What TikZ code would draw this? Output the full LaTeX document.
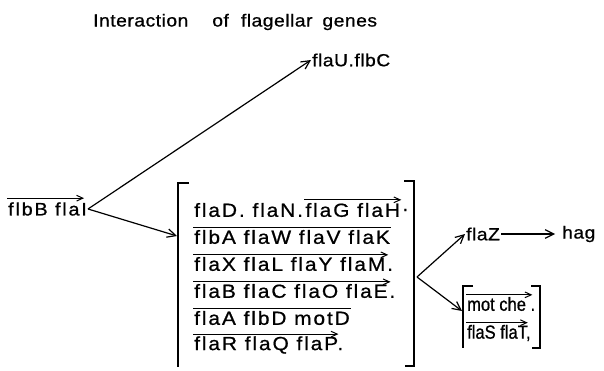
\documentclass[tikz,border=0pt]{standalone}
\usepackage{fontspec}
\setmainfont{Liberation Sans}
\newfontfamily\genefont[LetterSpace=10,FakeStretch=1.1,FakeBold=0.8]{Liberation Sans}
\newfontfamily\plainfont[LetterSpace=3,FakeStretch=1.1,FakeBold=0.8]{Liberation Sans}
\newfontfamily\tightfont[FakeStretch=0.87,FakeBold=0.8]{Liberation Sans}
\usetikzlibrary{arrows.meta,positioning}
\tikzset{
  gene/.style={inner sep=1pt, anchor=west, font=\genefont\fontsize{19}{21}\selectfont},
  tgene/.style={gene, font=\plainfont\fontsize{17.5}{20}\selectfont},
  sgene/.style={gene, font=\tightfont\fontsize{19}{21}\selectfont},
  overarrow/.style={-{Straight Barb[length=2.2mm,width=2mm]}, line width=1pt},
  overbar/.style={line width=1pt},
  link/.style={-{Straight Barb[length=3mm,width=3mm]}, line width=1.2pt},
  brak/.style={line width=1.2pt}
}

\begin{document}
\begin{tikzpicture}[x=1pt,y=-1pt]
\useasboundingbox (0,0) rectangle (604,371);
\node[tgene] (title) at (92,22) {Interaction\hspace{24pt}of\hspace{12pt}flagellar\hspace{10pt}genes};

% first level
\node[gene, font=\genefont\fontsize{18}{20}\selectfont] (src) at (7,209) {flbB flaI};
\node[tgene] (uc) at (311,60) {flaU.flbC};
\draw[overarrow] ([yshift=3pt]src.north west) -- ([yshift=3pt,xshift=-4pt]src.north east);

% large bracket
\draw[brak] (189,183) -- (178,183) -- (178,367);
\draw[brak] (404,181) -- (414,181) -- (414,366) -- (405,366);
\coordinate (bigL) at (177,236);
\coordinate (bigR) at (417,277);

\node[gene] (r1a) at (193,210) {flaD. flaN.};
\node[gene, right=0pt of r1a] (r1b) {flaG flaH};
\node[gene, right=0pt of r1b] (r1c) {.};
\node[gene] (r2) at (193,237) {flbA flaW flaV flaK};
\node[gene] (r3) at (193,264) {flaX flaL flaY flaM.};
\node[gene] (r4) at (193,291) {flaB flaC flaO flaE.};
\node[gene] (r5) at (193,318) {flaA flbD motD};
\node[gene] (r6) at (193,345) {flaR flaQ flaP.};

\draw[overarrow] ([yshift=2pt]r1b.north west) -- ([yshift=2pt]r1b.north east);
\draw[overbar] ([yshift=1pt]r2.north west) -- ([yshift=1pt]r2.north east);
\draw[overarrow] ([yshift=1pt]r3.north west) -- ([yshift=1pt,xshift=-6pt]r3.north east);
\draw[overarrow] ([yshift=1pt]r4.north west) -- ([yshift=1pt,xshift=-6pt]r4.north east);
\draw[overbar] ([yshift=1pt]r5.north west) -- ([yshift=1pt]r5.north east);
\draw[overarrow] ([yshift=1pt]r6.north west) -- ([yshift=1pt,xshift=-6pt]r6.north east);

% second level
\node[tgene] (z) at (465,234) {flaZ};
\node[tgene] (hag) at (561,234) {hag};
\draw[brak] (473,286) -- (463,286) -- (463,348);
\draw[brak] (531,286) -- (540,286) -- (540,348) -- (532,348);
\coordinate (smallL) at (462,311);
\node[sgene] (s1) at (466,304) {mot che .};
\node[sgene] (s2) at (466,333) {flaS flaT,};
\draw[overarrow] ([yshift=1pt]s1.north west) -- ([yshift=1pt,xshift=-4pt]s1.north east);
\draw[overarrow] ([yshift=1pt]s2.north west) -- ([yshift=1pt,xshift=-4pt]s2.north east);

% connectors
\draw[link] (src.east) -- (uc.west);
\draw[link] (src.east) -- (bigL);
\draw[link] (bigR) -- (z.west);
\draw[link] (bigR) -- (smallL);
\draw[link] (z.east) -- ([xshift=-6pt]hag.west);
\end{tikzpicture}
\end{document}
